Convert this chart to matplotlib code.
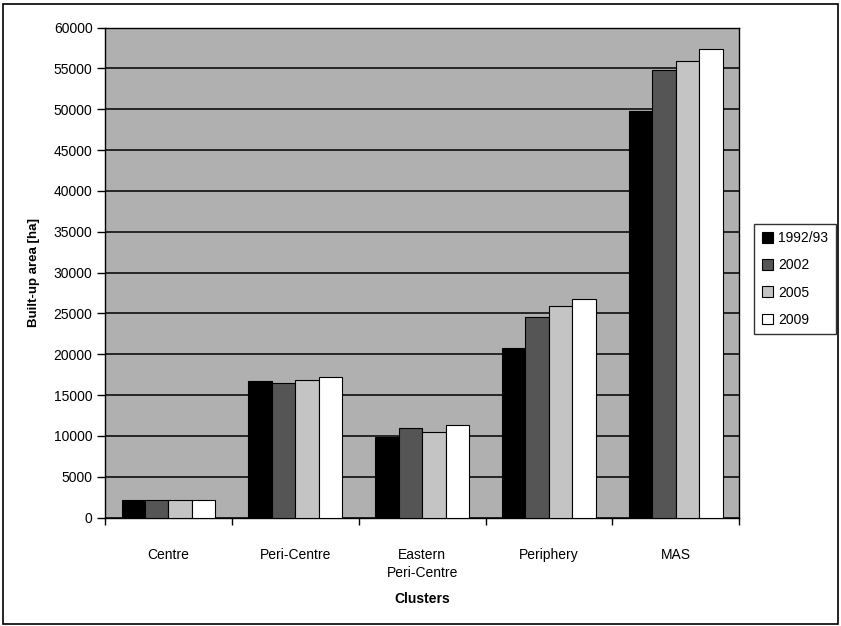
import numpy as np
import matplotlib.pyplot as plt
from matplotlib.patches import Rectangle

plt.rcParams['font.family'] = ['Liberation Sans', 'DejaVu Sans']

# Built-up area per cluster [ha]
clusters = ['Centre', 'Peri-Centre', 'Eastern\nPeri-Centre', 'Periphery', 'MAS']
years = ['1992/93', '2002', '2005', '2009']
area_1992 = [2200, 16750, 9900, 20700, 49800]
area_2002 = [2200, 16500, 11000, 24500, 54800]
area_2005 = [2200, 16800, 10500, 25900, 55900]
area_2009 = [2200, 17200, 11300, 26700, 57400]

series = [area_1992, area_2002, area_2005, area_2009]
colors = ['#000000', '#555555', '#c4c4c4', '#ffffff']

fig = plt.figure(figsize=(8.41, 6.26), dpi=100)
ax = fig.add_axes([0.1249, 0.1733, 0.754, 0.7827])
ax.set_facecolor('#b0b0b0')

x = np.arange(len(clusters))
w = 0.185
for i, (vals, c) in enumerate(zip(series, colors)):
    ax.bar(x + (i - 1.5) * w, vals, width=w, color=c,
           edgecolor='black', linewidth=0.8, label=years[i], zorder=3)

# Axes, ticks and grid
ax.set_xlim(-0.5, len(clusters) - 0.5)
ax.set_ylim(0, 60000)
ax.set_yticks(np.arange(0, 60001, 5000))
ax.yaxis.grid(True, color='black', linewidth=1.1, zorder=1)
ax.set_axisbelow(True)

ax.set_xticks(x)
ax.set_xticklabels(clusters, fontsize=10, linespacing=1.4)
ax.set_xticks(np.arange(-0.5, len(clusters), 1), minor=True)
ax.tick_params(axis='x', which='major', length=0, pad=22)
ax.tick_params(axis='x', which='minor', length=5, width=1, direction='out')
ax.tick_params(axis='y', length=6, width=1, direction='out', labelsize=10, pad=3)

for s in ax.spines.values():
    s.set_color('black')
    s.set_linewidth(1.0)

ax.set_xlabel('Clusters', fontsize=10, fontweight='bold', labelpad=8)
ax.set_ylabel('Built-up area [ha]', fontsize=9.5, fontweight='bold', labelpad=10)

leg = ax.legend(loc='upper left', bbox_to_anchor=(1.024, 0.60), fontsize=10,
                frameon=True, fancybox=False, edgecolor='black',
                handlelength=0.8, handleheight=0.8, handletextpad=0.35,
                labelspacing=0.95, borderpad=0.55, borderaxespad=0)
leg.get_frame().set_linewidth(1.0)

# Outer frame of the chart
fig.patches.append(Rectangle((0.003, 0.003), 0.994, 0.99, transform=fig.transFigure,
                             fill=False, edgecolor='black', linewidth=1.2))

fig.savefig('out.png', dpi=100, facecolor='white')
